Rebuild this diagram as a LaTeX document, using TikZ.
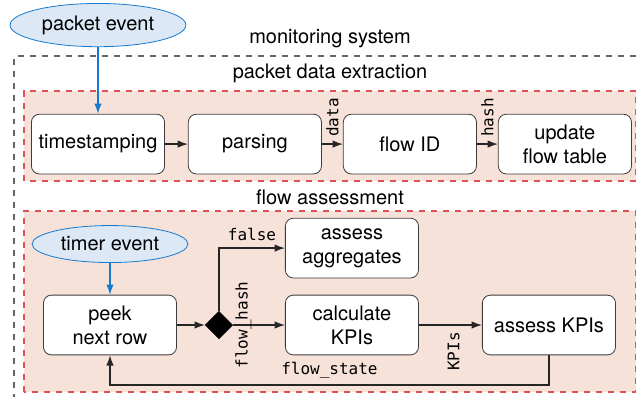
\documentclass[tikz,border=0pt]{standalone}
\usepackage{fontspec}
\setmainfont{TeX Gyre Heros}
\setmonofont{DejaVu Sans Mono}
\usepackage{xcolor}
\usetikzlibrary{shapes, arrows.meta, positioning}

\definecolor{regionfill}{RGB}{247,226,218}
\definecolor{regionline}{RGB}{222,82,86}
\definecolor{eventfill}{RGB}{220,232,246}
\definecolor{eventline}{RGB}{24,122,204}
\definecolor{boxline}{RGB}{60,60,60}

\tikzset{
    block/.style={draw=boxline, fill=white, rounded corners=4pt, minimum width=2.34cm, minimum height=1.05cm, align=center},
    event/.style={draw=eventline, fill=eventfill, ellipse, inner sep=0pt},
    region/.style={draw=regionline, fill=regionfill, dashed, semithick},
    flow/.style={-{Latex[length=1.8mm,width=1.3mm]}, semithick, draw=black!85},
    evflow/.style={-{Latex[length=1.8mm,width=1.3mm]}, semithick, draw=eventline},
    tag/.style={font=\ttfamily\footnotesize}
}

\begin{document}
\begin{tikzpicture}
        \useasboundingbox (0,0) rectangle (11.23,6.96);
        \clip (0,0) rectangle (11.23,6.96);

        % Monitoring system
        \draw[draw=black!60, dashed, semithick] (0.246,-0.5) rectangle (11.6,5.974);
        \node (mon) at (5.80,6.29) {monitoring system};

        % Packet data extraction
        \node (pdetitle) at (5.80,5.675) {packet data extraction};
        \draw[region] (0.422,3.778) rectangle (11.175,5.359);
        \node[block] (ts) at (1.722,4.428) {timestamping};
        \node[block] (parse) at (4.480,4.428) {parsing};
        \node[block] (fid) at (7.204,4.428) {flow ID};
        \node[block] (upd) at (9.928,4.428) {update\\flow table};
        \node[event, minimum width=3.09cm, minimum height=0.76cm] (pkt) at (1.722,6.519) {packet event};

        % Flow assessment
        \node (fatitle) at (5.80,3.497) {flow assessment};
        \draw[region] (0.422,0.07) rectangle (11.175,3.251);
        \node[event, minimum width=2.74cm, minimum height=0.65cm] (timer) at (1.933,2.671) {timer event};
        \node[block] (peek) at (1.933,1.248) {peek\\next row};
        \node[draw, fill=black, diamond, minimum size=0.48cm, inner sep=0pt] (dec) at (3.848,1.248) {};
        \node[block] (agg) at (6.185,2.600) {assess\\aggregates};
        \node[block] (calc) at (6.185,1.248) {calculate\\KPIs};
        \node[block] (akpi) at (9.647,1.248) {assess KPIs};
        \coordinate (loopr) at (9.647,0.193);
        \coordinate (loopl) at (1.933,0.193);

        % Arrows extraction
        \draw[evflow] (pkt) -- (ts);
        \draw[flow] (ts) -- (parse);
        \draw[flow] (parse) -- (fid) node[midway, rotate=90, anchor=west, tag] {data};
        \draw[flow] (fid) -- (upd) node[midway, rotate=90, anchor=west, tag] {hash};

        % Arrows assessment
        \draw[evflow] (timer) -- (peek);
        \draw[flow] (peek) -- (dec);
        \draw[flow] (dec) -- (calc) node[pos=0.2, rotate=90, tag] {flow\_hash};
        \draw[flow] (dec.north) |- (agg) node[pos=0.75, above, tag] {false};
        \draw[flow] (calc) -- (akpi) node[pos=0.55, rotate=90, anchor=east, tag] {KPIs};
        \draw[flow] (akpi) -- (loopr) -- (loopl) node[midway, above, tag] {flow\_state} -- (peek);
    \end{tikzpicture}
\end{document}
